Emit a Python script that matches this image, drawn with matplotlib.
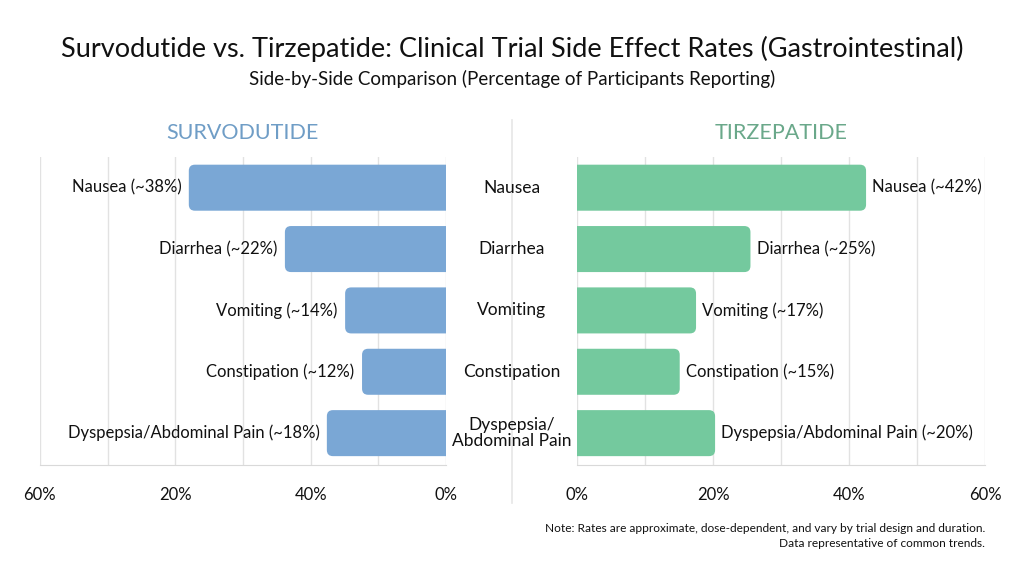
import matplotlib
matplotlib.use("Agg")
import matplotlib.pyplot as plt
from matplotlib.patches import FancyBboxPatch
import numpy as np

plt.rcParams['font.family'] = ['Lato', 'DejaVu Sans']

categories = ["Nausea", "Diarrhea", "Vomiting", "Constipation", "Dyspepsia/\nAbdominal Pain"]
label_names = ["Nausea", "Diarrhea", "Vomiting", "Constipation", "Dyspepsia/Abdominal Pain"]
# quoted values (labels) and drawn bar lengths
survodutide_label = [38, 22, 14, 12, 18]
survodutide_bar = [38, 23.8, 14.9, 12.4, 17.6]
tirzepatide_label = [42, 25, 17, 15, 20]
tirzepatide_bar = [42.5, 25.5, 17.5, 15.1, 20.3]
left_tick_labels = ["60%", "", "20%", "", "40%", "", "0%"]   # for 60,50,...,0
right_tick_labels = ["0%", "", "20%", "", "40%", "", "60%"]  # for 0,10,...,60

BLUE = "#7aa7d5"
GREEN = "#74c99e"
GRID = "#e2e2e2"

fig = plt.figure(figsize=(10.24, 5.72), dpi=100)
fig.patch.set_facecolor("white")

ax_l = fig.add_axes([0.039, 0.187, 0.3965, 0.5385])
ax_r = fig.add_axes([0.5635, 0.187, 0.3985, 0.5385])

y = np.arange(len(categories))
bar_h = 0.75


def rounded_bar(ax, width, yc, color):
    # start left of 0 so the inner end gets clipped square by the axes
    patch = FancyBboxPatch((-3, yc - bar_h / 2), width + 3, bar_h,
                           boxstyle="round,pad=0,rounding_size=0.9",
                           mutation_aspect=0.11,
                           facecolor=color, edgecolor="none", zorder=3)
    ax.add_patch(patch)


for ax in (ax_l, ax_r):
    ax.set_xlim(0, 60)
    ax.set_ylim(4.52, -0.5)
    ax.set_yticks([])
    for s in ("top", "right", "left"):
        ax.spines[s].set_visible(False)
    ax.spines["bottom"].set_color("#d9d9d9")
    ax.grid(axis="x", color=GRID, linewidth=1, zorder=0)
    ax.tick_params(axis="x", length=0, labelsize=12, pad=16, colors="#111111")

ax_l.set_xlim(60, 0)
ax_l.set_xticks(np.arange(60, -1, -10))
ax_l.set_xticklabels(left_tick_labels)
ax_r.set_xticks(np.arange(0, 61, 10))
ax_r.set_xticklabels(right_tick_labels)

for i, v in enumerate(survodutide_bar):
    rounded_bar(ax_l, v, y[i], BLUE)
    ax_l.text(v + 1.1, y[i], f"{label_names[i]} (~{survodutide_label[i]}%)", ha="right", va="center",
              fontsize=12, color="#111111", zorder=4)

for i, v in enumerate(tirzepatide_bar):
    rounded_bar(ax_r, v, y[i], GREEN)
    ax_r.text(v + 0.9, y[i], f"{label_names[i]} (~{tirzepatide_label[i]}%)", ha="left", va="center",
              fontsize=12, color="#111111", zorder=4)

# center category labels
for i, c in enumerate(categories):
    yy = ax_l.transData.transform((0, y[i]))[1]
    yf = fig.transFigure.inverted().transform((0, yy))[1]
    fig.text(0.5, yf, c, ha="center", va="center", fontsize=12.5, color="#111111",
             linespacing=1.05)

# divider
fig.add_artist(plt.Line2D([0.5, 0.5], [0.12, 0.79], color="#e6e6e6", linewidth=1.2))

fig.text(0.5, 0.915, "Survodutide vs. Tirzepatide: Clinical Trial Side Effect Rates (Gastrointestinal)",
         ha="center", va="center", fontsize=19.5, color="#111111")
fig.text(0.5, 0.862, "Side-by-Side Comparison (Percentage of Participants Reporting)",
         ha="center", va="center", fontsize=13.5, color="#111111")
fig.text(0.237, 0.767, "SURVODUTIDE", ha="center", va="center", fontsize=15.5, color="#6f9dc6")
fig.text(0.763, 0.767, "TIRZEPATIDE", ha="center", va="center", fontsize=15.5, color="#6aa88a")

fig.text(0.962, 0.063, "Note: Rates are approximate, dose-dependent, and vary by trial design and duration.\n"
         "Data representative of common trends.", ha="right", va="center",
         fontsize=8.6, color="#111111", linespacing=1.35)

fig.savefig("out.png", dpi=100, facecolor="white")
